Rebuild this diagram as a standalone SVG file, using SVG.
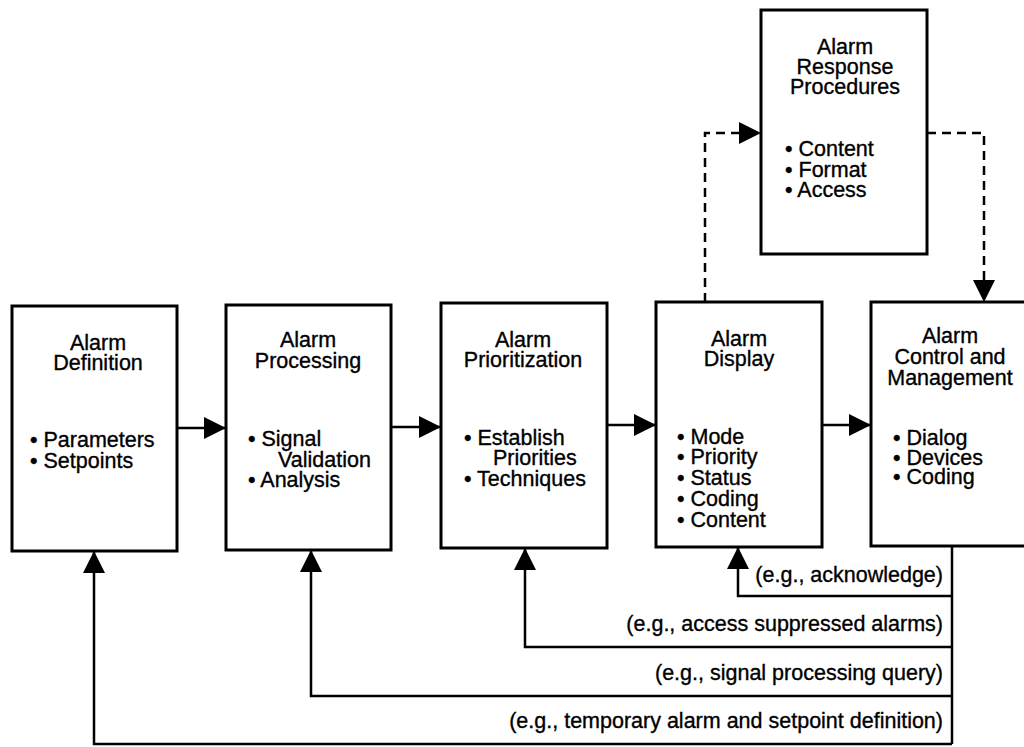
<svg xmlns="http://www.w3.org/2000/svg" width="1024" height="747" viewBox="0 0 1024 747">
<style>
.box{fill:#fff;stroke:#000;stroke-width:3}
.t{font-family:"Liberation Sans",Arial,sans-serif;font-size:21.5px;fill:#000;stroke:#000;stroke-width:0.35}
.c{text-anchor:middle}
.e{text-anchor:end}
.ln{fill:none;stroke:#000;stroke-width:2.5}
.dash{fill:none;stroke:#000;stroke-width:2.5;stroke-dasharray:9,6}
</style>
<defs>
<marker id="ah" markerUnits="userSpaceOnUse" markerWidth="22" markerHeight="22" refX="22" refY="11" orient="auto" viewBox="0 0 22 22">
<path d="M0,0 L22,11 L0,22 z" fill="#000"/>
</marker>
</defs>
<rect width="1024" height="747" fill="#fff"/>
<g id="connectors">
<line class="ln" x1="177" y1="428" x2="226" y2="428" marker-end="url(#ah)"/>
<line class="ln" x1="391" y1="427" x2="441" y2="427" marker-end="url(#ah)"/>
<line class="ln" x1="607" y1="425" x2="656" y2="425" marker-end="url(#ah)"/>
<line class="ln" x1="822" y1="425" x2="871" y2="425" marker-end="url(#ah)"/>
<polyline class="dash" points="705,302 705,133 761,133" marker-end="url(#ah)"/>
<polyline class="dash" points="927,133 984,133 984,302" marker-end="url(#ah)"/>
<line class="ln" x1="952" y1="546" x2="952" y2="744"/>
<polyline class="ln" points="952,596 738,596 738,547" marker-end="url(#ah)"/>
<polyline class="ln" points="952,647 525,647 525,548" marker-end="url(#ah)"/>
<polyline class="ln" points="952,696 311,696 311,550" marker-end="url(#ah)"/>
<polyline class="ln" points="952,744 94,744 94,551" marker-end="url(#ah)"/>
<text class="t e" x="943" y="582">(e.g., acknowledge)</text>
<text class="t e" x="943" y="631">(e.g., access suppressed alarms)</text>
<text class="t e" x="943" y="680">(e.g., signal processing query)</text>
<text class="t e" x="943" y="728">(e.g., temporary alarm and setpoint definition)</text>
</g>
<g id="response">
<rect class="box" x="761" y="10" width="166" height="244"/>
<text class="t c"><tspan x="845" y="54">Alarm</tspan><tspan x="845" y="74">Response</tspan><tspan x="845" y="94">Procedures</tspan></text>
<text class="t"><tspan x="785" y="156">• Content</tspan><tspan x="785" y="177">• Format</tspan><tspan x="785" y="197">• Access</tspan></text>
</g>
<g id="definition">
<rect class="box" x="12" y="306" width="165" height="245"/>
<text class="t c"><tspan x="98" y="350">Alarm</tspan><tspan x="98" y="370">Definition</tspan></text>
<text class="t"><tspan x="30" y="447">• Parameters</tspan><tspan x="30" y="468">• Setpoints</tspan></text>
</g>
<g id="processing">
<rect class="box" x="226" y="305" width="165" height="245"/>
<text class="t c"><tspan x="308" y="347">Alarm</tspan><tspan x="308" y="368">Processing</tspan></text>
<text class="t"><tspan x="248" y="446">• Signal</tspan><tspan x="278" y="467">Validation</tspan><tspan x="248" y="487">• Analysis</tspan></text>
</g>
<g id="prioritization">
<rect class="box" x="441" y="303" width="166" height="245"/>
<text class="t c"><tspan x="523" y="347">Alarm</tspan><tspan x="523" y="367">Prioritization</tspan></text>
<text class="t"><tspan x="464" y="445">• Establish</tspan><tspan x="493" y="465">Priorities</tspan><tspan x="464" y="486">• Techniques</tspan></text>
</g>
<g id="display">
<rect class="box" x="656" y="302" width="166" height="245"/>
<text class="t c"><tspan x="739" y="346">Alarm</tspan><tspan x="739" y="366">Display</tspan></text>
<text class="t"><tspan x="677" y="444">• Mode</tspan><tspan x="677" y="464">• Priority</tspan><tspan x="677" y="485">• Status</tspan><tspan x="677" y="506">• Coding</tspan><tspan x="677" y="527">• Content</tspan></text>
</g>
<g id="control">
<rect class="box" x="871" y="302" width="170" height="244"/>
<text class="t c"><tspan x="950" y="343">Alarm</tspan><tspan x="950" y="364">Control and</tspan><tspan x="950" y="385">Management</tspan></text>
<text class="t"><tspan x="893" y="445">• Dialog</tspan><tspan x="893" y="465">• Devices</tspan><tspan x="893" y="484">• Coding</tspan></text>
</g>
</svg>
